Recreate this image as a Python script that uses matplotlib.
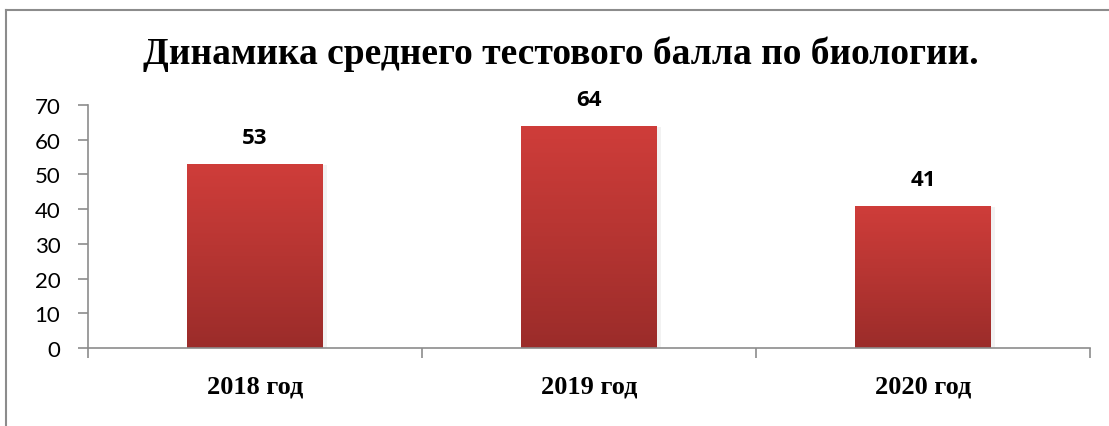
import matplotlib
matplotlib.use("Agg")
import matplotlib.pyplot as plt
import numpy as np
from matplotlib.colors import LinearSegmentedColormap
from matplotlib.lines import Line2D

# Данные
categories = ["2018 год", "2019 год", "2020 год"]
values = [53, 64, 41]
yticks = [0, 10, 20, 30, 40, 50, 60, 70]

fig = plt.figure(figsize=(11.09, 4.27), dpi=100)
ax = fig.add_axes([0.0794, 0.1827, 0.9035, 0.5691])

# рамка (видны только верх и левая сторона)
fig.add_artist(Line2D([0.0054, 1.0], [1 - 11 / 427, 1 - 11 / 427], transform=fig.transFigure,
                      color="#8c8c8c", lw=1.5))
fig.add_artist(Line2D([0.0054, 0.0054], [0.0, 1 - 11 / 427], transform=fig.transFigure,
                      color="#8c8c8c", lw=1.5))

cmap = LinearSegmentedColormap.from_list("bar", ["#9b2c2a", "#b63532", "#cf3d3a"])
grad = np.linspace(0, 1, 256).reshape(-1, 1)

x = np.arange(len(categories))
bars = ax.bar(x, values, width=0.405, color="none", edgecolor="none", zorder=2)
for b, v in zip(bars, values):
    x0 = b.get_x()
    w = b.get_width()
    # лёгкая тень справа
    ax.add_patch(plt.Rectangle((x0 + 0.004, 0), w + 0.008, v - 0.3, color="#000000", alpha=0.05,
                               lw=0, zorder=1))
    im = ax.imshow(grad, cmap=cmap, origin="lower", aspect="auto",
                   extent=[x0, x0 + w, 0, v], zorder=3)
    im.set_clip_path(b)
    ax.annotate(str(v), (b.get_x() + w / 2, v), xytext=(0, 19), textcoords="offset points",
                ha="center", va="center", fontsize=16, fontweight="bold", family="Open Sans")

ax.set_xlim(-0.5, 2.5)
ax.set_ylim(0, 70)
ax.set_yticks(yticks)
ax.set_xticks(x)
ax.set_xticklabels(categories, family="Liberation Serif", fontweight="bold", fontsize=19)
ax.set_xticks([-0.5, 0.5, 1.5, 2.5], minor=True)
ax.tick_params(axis="x", which="major", length=0, pad=19)
ax.tick_params(axis="x", which="minor", length=7, color="#8c8c8c", width=1.2, direction="out")
ax.tick_params(axis="y", length=7, color="#8c8c8c", width=1.2, pad=13, labelsize=16)
for lab in ax.get_yticklabels():
    lab.set_family("Lato")

for s in ["top", "right"]:
    ax.spines[s].set_visible(False)
for s in ["left", "bottom"]:
    ax.spines[s].set_color("#8c8c8c")
    ax.spines[s].set_linewidth(1.2)
ax.spines["bottom"].set_zorder(4)

fig.text(0.506, 0.872, "Динамика среднего тестового балла по биологии.", ha="center", va="center",
         family="Liberation Serif", fontweight="bold", fontsize=27)

fig.savefig("out.png", dpi=100)
